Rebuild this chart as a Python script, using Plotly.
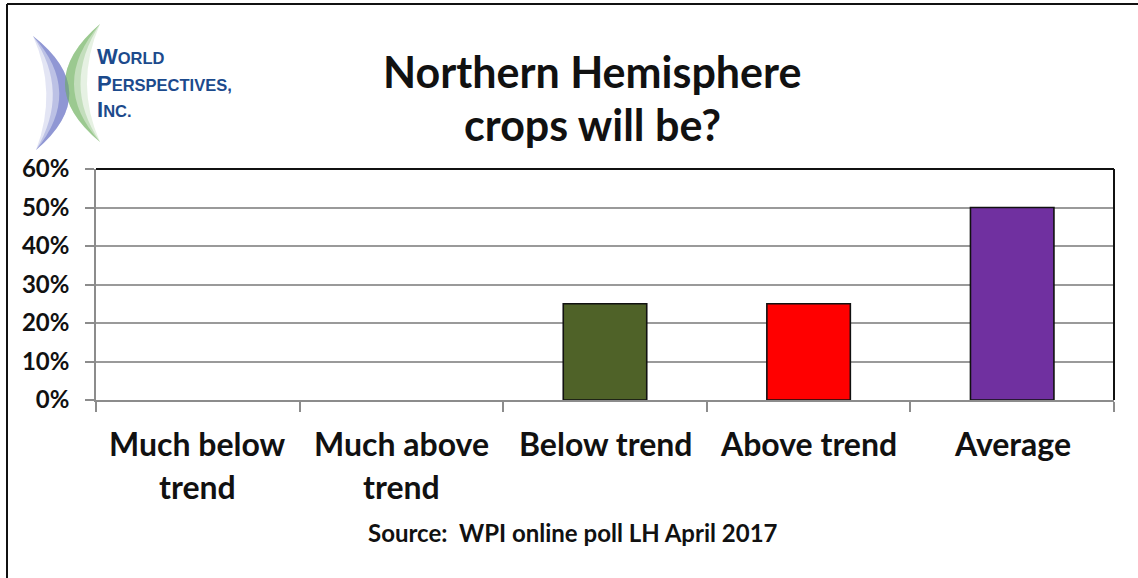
import plotly.graph_objects as go

# Poll results
categories = ["Much below\ntrend", "Much above\ntrend", "Below trend", "Above trend", "Average"]
shares = [0.0, 0.0, 0.25, 0.25, 0.50]
bar_colors = ["#4F6228", "#4F6228", "#4F6228", "#FF0000", "#7030A0"]
y_ticks = [0.0, 0.1, 0.2, 0.3, 0.4, 0.5, 0.6]
y_tick_labels = ["0%", "10%", "20%", "30%", "40%", "50%", "60%"]

title_lines = ["Northern Hemisphere", "crops will be?"]
source_note = "Source:  WPI online poll LH April 2017"
logo_words = ["WORLD", "PERSPECTIVES,", "INC."]

W, H = 1138, 578
L, R, T, B = 96, 1114, 169, 400  # plot area in pixels
FONT = "Lato"


def px(x):
    return (x - L) / (R - L)


def py(y):
    return (B - y) / (B - T)


fig = go.Figure()
fig.add_trace(go.Bar(
    x=list(range(len(categories))),
    y=shares,
    marker=dict(color=bar_colors,
                line=dict(color="#111111", width=[1.6 if v > 0 else 0 for v in shares])),
    hoverinfo="skip",
))

fig.update_layout(
    width=W, height=H,
    margin=dict(l=L, r=W - R, t=T, b=H - B),
    paper_bgcolor="white", plot_bgcolor="white",
    showlegend=False, bargap=0.59,
    font=dict(family=FONT, color="#111111"),
)

fig.update_xaxes(
    type="linear", range=[-0.5, len(categories) - 0.5],
    tickvals=[i - 0.5 for i in range(len(categories) + 1)],
    showticklabels=False, ticks="outside", ticklen=10, tickwidth=1.5,
    tickcolor="#8c8c8c", showline=True, linecolor="#8c8c8c", linewidth=1.5,
    showgrid=False, zeroline=False, fixedrange=True,
)
fig.update_yaxes(
    range=[0, 0.6], tickvals=y_ticks, ticktext=y_tick_labels,
    ticks="outside", ticklen=9, tickwidth=1.5, tickcolor="#8c8c8c",
    ticklabelstandoff=11,
    tickfont=dict(family=FONT, size=24, color="#111111", weight="bold"),
    showline=True, linecolor="#8c8c8c", linewidth=1.5,
    showgrid=True, gridcolor="#9a9a9a", gridwidth=1.5,
    zeroline=False, fixedrange=True,
)

shapes = []
# black top and right edges of the plot area
shapes.append(dict(type="line", xref="paper", yref="paper", x0=0, x1=1, y0=1, y1=1,
                   line=dict(color="#111111", width=2)))
shapes.append(dict(type="line", xref="paper", yref="paper", x0=1, x1=1, y0=0, y1=1,
                   line=dict(color="#111111", width=2)))
# outer chart frame (left and top)
shapes.append(dict(type="line", xref="paper", yref="paper", x0=px(7), x1=px(7), y0=py(4), y1=py(H),
                   line=dict(color="#111111", width=2)))
shapes.append(dict(type="line", xref="paper", yref="paper", x0=px(7), x1=px(W), y0=py(4), y1=py(4),
                   line=dict(color="#111111", width=2)))


def crescent(p_top, p_bot, c_outer, c_inner):
    (x0, y0), (x1, y1) = p_top, p_bot
    return (f"M {px(x0)},{py(y0)} Q {px(c_outer[0])},{py(c_outer[1])} {px(x1)},{py(y1)} "
            f"Q {px(c_inner[0])},{py(c_inner[1])} {px(x0)},{py(y0)} Z")


# logo arcs, layered so they fade toward the inner side
for k, op in enumerate([0.18, 0.3, 0.5]):
    shapes.append(dict(type="path", xref="paper", yref="paper",
                       path=crescent((33, 36), (36, 150), (104, 92), (58 + 13 * k, 92)),
                       fillcolor=f"rgba(100,110,195,{op})", line=dict(width=0), layer="above"))
    shapes.append(dict(type="path", xref="paper", yref="paper",
                       path=crescent((100, 24), (100, 142), (30, 84), (74 - 13 * k, 84)),
                       fillcolor=f"rgba(115,180,100,{op})", line=dict(width=0), layer="above"))
fig.update_layout(shapes=shapes)

ann = []
# title
for text, yy in zip(title_lines, [72, 124]):
    ann.append(dict(xref="paper", yref="paper", x=px(592), y=py(yy), text=text,
                    showarrow=False, xanchor="center", yanchor="middle",
                    font=dict(family=FONT, size=43, color="#111111", weight="bold")))
# category labels, one row per line of text
for i, cat in enumerate(categories):
    for j, line in enumerate(cat.split("\n")):
        ann.append(dict(xref="x", yref="paper", x=i, y=0, yshift=-(443 + 43 * j - B),
                        text=line, showarrow=False, xanchor="center", yanchor="middle",
                        font=dict(family=FONT, size=32, color="#111111", weight="bold")))
# source note
ann.append(dict(xref="paper", yref="paper", x=px(573), y=py(532), text=source_note,
                showarrow=False, xanchor="center", yanchor="middle",
                font=dict(family=FONT, size=24, color="#111111", weight="bold")))
# logo wordmark in small caps
logo_text = "<br>".join(
    f"<span style='font-size:22px'>{w[0]}</span><span style='font-size:16.5px'>{w[1:]}</span>"
    for w in logo_words
)
ann.append(dict(xref="paper", yref="paper", x=px(95), y=py(83), text=logo_text,
                showarrow=False, xanchor="left", yanchor="middle", align="left",
                font=dict(family="Liberation Sans", size=20.5, color="#1c4a8c", weight="bold")))
fig.update_layout(annotations=ann)

fig.write_html("out.html")
